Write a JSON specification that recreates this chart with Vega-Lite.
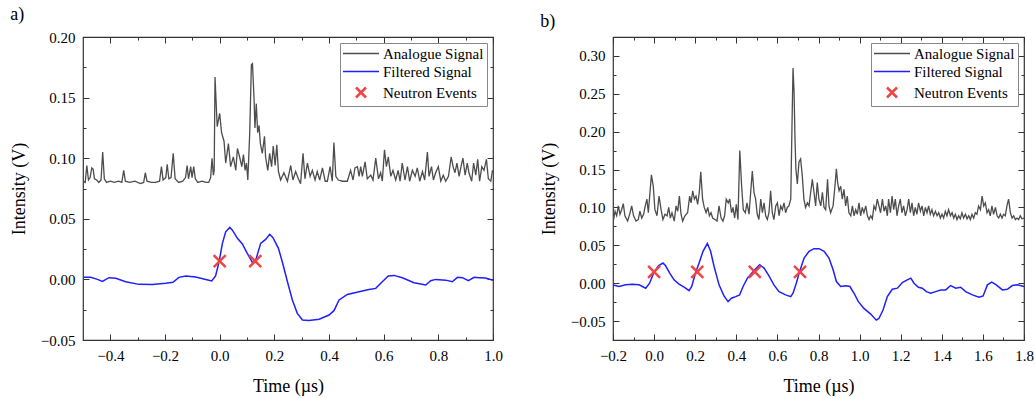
{
 "$schema": "https://vega.github.io/schema/vega-lite/v6.json",
 "padding": {"left": 9, "right": 5, "top": 5, "bottom": 0},
 "config": {
  "view": {"stroke": "#333", "strokeWidth": 1.2},
  "font": "Liberation Serif",
  "axis": {"labelFont": "Liberation Serif", "labelFontSize": 15, "labelColor": "black", "titleFont": "Liberation Serif", "titleFontSize": 18, "titleFontWeight": "normal", "titleColor": "black", "grid": false, "domain": false, "tickColor": "#333", "tickWidth": 1, "labelOverlap": false, "labelFlush": false},
  "title": {"font": "Liberation Serif", "fontSize": 18, "fontWeight": "normal", "color": "black"}
 },
 "datasets": {
  "la": [
   {"t":-0.500,"v":0.081},{"t":-0.492,"v":0.080},{"t":-0.486,"v":0.094},{"t":-0.480,"v":0.082},{"t":-0.474,"v":0.084},{"t":-0.468,"v":0.092},{"t":-0.463,"v":0.091},{"t":-0.458,"v":0.083},{"t":-0.450,"v":0.082},{"t":-0.442,"v":0.080},{"t":-0.434,"v":0.082},{"t":-0.428,"v":0.105},{"t":-0.422,"v":0.083},{"t":-0.414,"v":0.080},{"t":-0.400,"v":0.081},{"t":-0.385,"v":0.080},{"t":-0.370,"v":0.081},{"t":-0.358,"v":0.080},{"t":-0.351,"v":0.090},{"t":-0.345,"v":0.081},{"t":-0.330,"v":0.080},{"t":-0.310,"v":0.081},{"t":-0.290,"v":0.079},{"t":-0.278,"v":0.080},{"t":-0.272,"v":0.088},{"t":-0.266,"v":0.081},{"t":-0.250,"v":0.080},{"t":-0.235,"v":0.080},{"t":-0.220,"v":0.081},{"t":-0.213,"v":0.093},{"t":-0.207,"v":0.082},{"t":-0.197,"v":0.084},{"t":-0.192,"v":0.095},{"t":-0.186,"v":0.083},{"t":-0.178,"v":0.084},{"t":-0.170,"v":0.104},{"t":-0.163,"v":0.083},{"t":-0.150,"v":0.080},{"t":-0.135,"v":0.081},{"t":-0.125,"v":0.084},{"t":-0.119,"v":0.094},{"t":-0.114,"v":0.083},{"t":-0.106,"v":0.093},{"t":-0.101,"v":0.084},{"t":-0.095,"v":0.093},{"t":-0.089,"v":0.083},{"t":-0.080,"v":0.080},{"t":-0.065,"v":0.081},{"t":-0.050,"v":0.080},{"t":-0.040,"v":0.080},{"t":-0.033,"v":0.084},{"t":-0.028,"v":0.100},{"t":-0.023,"v":0.086},{"t":-0.020,"v":0.090},{"t":-0.017,"v":0.167},{"t":-0.009,"v":0.126},{"t":0.000,"v":0.137},{"t":0.007,"v":0.121},{"t":0.016,"v":0.114},{"t":0.022,"v":0.096},{"t":0.032,"v":0.112},{"t":0.040,"v":0.093},{"t":0.050,"v":0.101},{"t":0.059,"v":0.090},{"t":0.065,"v":0.108},{"t":0.073,"v":0.101},{"t":0.081,"v":0.093},{"t":0.087,"v":0.103},{"t":0.093,"v":0.090},{"t":0.098,"v":0.096},{"t":0.103,"v":0.082},{"t":0.110,"v":0.121},{"t":0.116,"v":0.177},{"t":0.120,"v":0.178},{"t":0.126,"v":0.148},{"t":0.129,"v":0.125},{"t":0.134,"v":0.145},{"t":0.139,"v":0.121},{"t":0.144,"v":0.127},{"t":0.149,"v":0.112},{"t":0.156,"v":0.104},{"t":0.164,"v":0.118},{"t":0.168,"v":0.101},{"t":0.176,"v":0.090},{"t":0.183,"v":0.104},{"t":0.190,"v":0.093},{"t":0.196,"v":0.110},{"t":0.203,"v":0.094},{"t":0.209,"v":0.111},{"t":0.215,"v":0.089},{"t":0.223,"v":0.082},{"t":0.235,"v":0.088},{"t":0.248,"v":0.081},{"t":0.260,"v":0.094},{"t":0.268,"v":0.082},{"t":0.278,"v":0.089},{"t":0.288,"v":0.083},{"t":0.296,"v":0.079},{"t":0.305,"v":0.104},{"t":0.312,"v":0.083},{"t":0.321,"v":0.096},{"t":0.331,"v":0.085},{"t":0.339,"v":0.090},{"t":0.349,"v":0.082},{"t":0.357,"v":0.089},{"t":0.366,"v":0.082},{"t":0.376,"v":0.092},{"t":0.386,"v":0.081},{"t":0.394,"v":0.081},{"t":0.404,"v":0.093},{"t":0.412,"v":0.081},{"t":0.418,"v":0.113},{"t":0.425,"v":0.085},{"t":0.434,"v":0.082},{"t":0.449,"v":0.081},{"t":0.467,"v":0.081},{"t":0.479,"v":0.090},{"t":0.488,"v":0.082},{"t":0.495,"v":0.092},{"t":0.504,"v":0.093},{"t":0.510,"v":0.085},{"t":0.516,"v":0.093},{"t":0.522,"v":0.085},{"t":0.532,"v":0.097},{"t":0.540,"v":0.083},{"t":0.553,"v":0.086},{"t":0.561,"v":0.082},{"t":0.571,"v":0.100},{"t":0.581,"v":0.083},{"t":0.589,"v":0.088},{"t":0.595,"v":0.081},{"t":0.603,"v":0.107},{"t":0.610,"v":0.093},{"t":0.617,"v":0.101},{"t":0.626,"v":0.085},{"t":0.634,"v":0.090},{"t":0.644,"v":0.082},{"t":0.653,"v":0.090},{"t":0.660,"v":0.081},{"t":0.668,"v":0.096},{"t":0.678,"v":0.082},{"t":0.687,"v":0.093},{"t":0.695,"v":0.081},{"t":0.705,"v":0.090},{"t":0.715,"v":0.085},{"t":0.723,"v":0.092},{"t":0.732,"v":0.081},{"t":0.742,"v":0.089},{"t":0.750,"v":0.082},{"t":0.760,"v":0.105},{"t":0.766,"v":0.085},{"t":0.775,"v":0.093},{"t":0.782,"v":0.082},{"t":0.790,"v":0.088},{"t":0.800,"v":0.093},{"t":0.809,"v":0.081},{"t":0.818,"v":0.086},{"t":0.827,"v":0.081},{"t":0.837,"v":0.085},{"t":0.847,"v":0.101},{"t":0.854,"v":0.093},{"t":0.861,"v":0.088},{"t":0.868,"v":0.096},{"t":0.876,"v":0.085},{"t":0.883,"v":0.093},{"t":0.890,"v":0.100},{"t":0.898,"v":0.086},{"t":0.906,"v":0.096},{"t":0.912,"v":0.088},{"t":0.922,"v":0.081},{"t":0.929,"v":0.096},{"t":0.937,"v":0.086},{"t":0.944,"v":0.099},{"t":0.951,"v":0.081},{"t":0.959,"v":0.093},{"t":0.967,"v":0.090},{"t":0.976,"v":0.099},{"t":0.983,"v":0.083},{"t":0.992,"v":0.081},{"t":0.998,"v":0.090},{"t":1.000,"v":0.088}
  ],
  "lf": [
   {"t":-0.500,"v":0.0017},{"t":-0.472,"v":0.0017},{"t":-0.447,"v":0.0},{"t":-0.429,"v":-0.0016},{"t":-0.405,"v":0.0014},{"t":-0.380,"v":0.0009},{"t":-0.344,"v":-0.0019},{"t":-0.295,"v":-0.0041},{"t":-0.246,"v":-0.0043},{"t":-0.198,"v":-0.0032},{"t":-0.171,"v":-0.0024},{"t":-0.149,"v":0.0017},{"t":-0.124,"v":0.0028},{"t":-0.088,"v":0.002},{"t":-0.051,"v":0.0},{"t":-0.029,"v":-0.0013},{"t":-0.015,"v":0.0028},{"t":-0.002,"v":0.0146},{"t":0.010,"v":0.0297},{"t":0.022,"v":0.0393},{"t":0.037,"v":0.0429},{"t":0.046,"v":0.0408},{"t":0.065,"v":0.0339},{"t":0.083,"v":0.0292},{"t":0.101,"v":0.0215},{"t":0.120,"v":0.0138},{"t":0.132,"v":0.0160},{"t":0.150,"v":0.0297},{"t":0.168,"v":0.033},{"t":0.183,"v":0.0372},{"t":0.195,"v":0.0344},{"t":0.215,"v":0.0256},{"t":0.229,"v":0.0146},{"t":0.248,"v":-0.0019},{"t":0.266,"v":-0.017},{"t":0.284,"v":-0.028},{"t":0.303,"v":-0.0335},{"t":0.327,"v":-0.034},{"t":0.364,"v":-0.0329},{"t":0.400,"v":-0.0294},{"t":0.418,"v":-0.0258},{"t":0.437,"v":-0.017},{"t":0.467,"v":-0.0124},{"t":0.510,"v":-0.0102},{"t":0.546,"v":-0.0083},{"t":0.571,"v":-0.0074},{"t":0.595,"v":-0.0019},{"t":0.617,"v":0.0028},{"t":0.638,"v":0.0033},{"t":0.668,"v":0.0014},{"t":0.711,"v":-0.0027},{"t":0.754,"v":-0.0046},{"t":0.772,"v":-0.0011},{"t":0.790,"v":0.0},{"t":0.827,"v":-0.0006},{"t":0.851,"v":-0.0019},{"t":0.870,"v":0.0017},{"t":0.888,"v":0.0014},{"t":0.910,"v":-0.0011},{"t":0.931,"v":0.0017},{"t":0.949,"v":0.0014},{"t":0.973,"v":0.0011},{"t":1.000,"v":-0.0008}
  ],
  "le": [
   {"t":0.0,"v":0.015,"s":"Neutron Events"},{"t":0.13,"v":0.015,"s":"Neutron Events"}
  ],
  "ra": [
   {"t":-0.200,"v":0.088},{"t":-0.197,"v":0.084},{"t":-0.190,"v":0.095},{"t":-0.182,"v":0.089},{"t":-0.174,"v":0.102},{"t":-0.166,"v":0.091},{"t":-0.158,"v":0.097},{"t":-0.150,"v":0.105},{"t":-0.142,"v":0.089},{"t":-0.129,"v":0.082},{"t":-0.117,"v":0.093},{"t":-0.109,"v":0.102},{"t":-0.100,"v":0.089},{"t":-0.088,"v":0.082},{"t":-0.077,"v":0.084},{"t":-0.069,"v":0.095},{"t":-0.060,"v":0.086},{"t":-0.051,"v":0.091},{"t":-0.043,"v":0.102},{"t":-0.035,"v":0.111},{"t":-0.028,"v":0.093},{"t":-0.020,"v":0.120},{"t":-0.013,"v":0.143},{"t":-0.004,"v":0.128},{"t":0.004,"v":0.097},{"t":0.014,"v":0.089},{"t":0.024,"v":0.115},{"t":0.034,"v":0.097},{"t":0.043,"v":0.084},{"t":0.053,"v":0.091},{"t":0.063,"v":0.089},{"t":0.071,"v":0.100},{"t":0.079,"v":0.086},{"t":0.087,"v":0.093},{"t":0.098,"v":0.082},{"t":0.107,"v":0.102},{"t":0.115,"v":0.095},{"t":0.123,"v":0.115},{"t":0.131,"v":0.091},{"t":0.139,"v":0.082},{"t":0.150,"v":0.089},{"t":0.163,"v":0.093},{"t":0.173,"v":0.115},{"t":0.180,"v":0.106},{"t":0.188,"v":0.122},{"t":0.196,"v":0.111},{"t":0.204,"v":0.115},{"t":0.212,"v":0.104},{"t":0.220,"v":0.120},{"t":0.227,"v":0.147},{"t":0.236,"v":0.111},{"t":0.244,"v":0.100},{"t":0.253,"v":0.093},{"t":0.261,"v":0.100},{"t":0.269,"v":0.089},{"t":0.277,"v":0.093},{"t":0.285,"v":0.086},{"t":0.296,"v":0.084},{"t":0.306,"v":0.082},{"t":0.316,"v":0.102},{"t":0.326,"v":0.086},{"t":0.335,"v":0.082},{"t":0.343,"v":0.089},{"t":0.351,"v":0.111},{"t":0.361,"v":0.106},{"t":0.368,"v":0.111},{"t":0.377,"v":0.093},{"t":0.384,"v":0.100},{"t":0.392,"v":0.086},{"t":0.400,"v":0.104},{"t":0.408,"v":0.084},{"t":0.417,"v":0.175},{"t":0.426,"v":0.128},{"t":0.434,"v":0.097},{"t":0.444,"v":0.093},{"t":0.452,"v":0.106},{"t":0.462,"v":0.091},{"t":0.470,"v":0.120},{"t":0.478,"v":0.148},{"t":0.486,"v":0.120},{"t":0.494,"v":0.111},{"t":0.502,"v":0.091},{"t":0.510,"v":0.084},{"t":0.519,"v":0.111},{"t":0.527,"v":0.093},{"t":0.535,"v":0.106},{"t":0.543,"v":0.089},{"t":0.551,"v":0.084},{"t":0.559,"v":0.093},{"t":0.567,"v":0.122},{"t":0.575,"v":0.093},{"t":0.583,"v":0.084},{"t":0.592,"v":0.102},{"t":0.600,"v":0.106},{"t":0.608,"v":0.089},{"t":0.616,"v":0.102},{"t":0.624,"v":0.097},{"t":0.632,"v":0.106},{"t":0.640,"v":0.093},{"t":0.648,"v":0.100},{"t":0.656,"v":0.102},{"t":0.665,"v":0.111},{"t":0.671,"v":0.208},{"t":0.676,"v":0.284},{"t":0.681,"v":0.253},{"t":0.686,"v":0.186},{"t":0.690,"v":0.151},{"t":0.697,"v":0.131},{"t":0.705,"v":0.160},{"t":0.713,"v":0.164},{"t":0.721,"v":0.142},{"t":0.729,"v":0.111},{"t":0.737,"v":0.100},{"t":0.746,"v":0.106},{"t":0.754,"v":0.102},{"t":0.762,"v":0.120},{"t":0.770,"v":0.137},{"t":0.778,"v":0.120},{"t":0.786,"v":0.102},{"t":0.794,"v":0.133},{"t":0.802,"v":0.111},{"t":0.811,"v":0.102},{"t":0.819,"v":0.120},{"t":0.827,"v":0.100},{"t":0.835,"v":0.097},{"t":0.844,"v":0.137},{"t":0.851,"v":0.102},{"t":0.859,"v":0.093},{"t":0.871,"v":0.102},{"t":0.880,"v":0.128},{"t":0.887,"v":0.151},{"t":0.893,"v":0.133},{"t":0.900,"v":0.122},{"t":0.908,"v":0.128},{"t":0.916,"v":0.111},{"t":0.924,"v":0.124},{"t":0.932,"v":0.102},{"t":0.940,"v":0.115},{"t":0.948,"v":0.093},{"t":0.957,"v":0.089},{"t":0.965,"v":0.102},{"t":0.973,"v":0.089},{"t":0.981,"v":0.097},{"t":0.989,"v":0.091},{"t":0.997,"v":0.106},{"t":1.005,"v":0.089},{"t":1.013,"v":0.100},{"t":1.021,"v":0.093},{"t":1.030,"v":0.102},{"t":1.038,"v":0.089},{"t":1.046,"v":0.084},{"t":1.054,"v":0.089},{"t":1.062,"v":0.085},{"t":1.070,"v":0.102},{"t":1.078,"v":0.097},{"t":1.086,"v":0.111},{"t":1.094,"v":0.102},{"t":1.102,"v":0.093},{"t":1.111,"v":0.111},{"t":1.119,"v":0.095},{"t":1.127,"v":0.102},{"t":1.135,"v":0.089},{"t":1.141,"v":0.111},{"t":1.150,"v":0.093},{"t":1.158,"v":0.115},{"t":1.166,"v":0.097},{"t":1.174,"v":0.111},{"t":1.182,"v":0.089},{"t":1.190,"v":0.102},{"t":1.198,"v":0.111},{"t":1.206,"v":0.093},{"t":1.214,"v":0.102},{"t":1.223,"v":0.089},{"t":1.231,"v":0.097},{"t":1.239,"v":0.111},{"t":1.247,"v":0.093},{"t":1.255,"v":0.106},{"t":1.263,"v":0.089},{"t":1.271,"v":0.100},{"t":1.279,"v":0.091},{"t":1.287,"v":0.106},{"t":1.296,"v":0.095},{"t":1.304,"v":0.102},{"t":1.312,"v":0.089},{"t":1.320,"v":0.100},{"t":1.328,"v":0.093},{"t":1.336,"v":0.102},{"t":1.344,"v":0.091},{"t":1.352,"v":0.097},{"t":1.360,"v":0.089},{"t":1.369,"v":0.095},{"t":1.377,"v":0.089},{"t":1.385,"v":0.093},{"t":1.393,"v":0.086},{"t":1.401,"v":0.091},{"t":1.409,"v":0.086},{"t":1.417,"v":0.095},{"t":1.425,"v":0.089},{"t":1.433,"v":0.097},{"t":1.442,"v":0.089},{"t":1.450,"v":0.093},{"t":1.458,"v":0.086},{"t":1.466,"v":0.091},{"t":1.474,"v":0.084},{"t":1.482,"v":0.089},{"t":1.490,"v":0.085},{"t":1.498,"v":0.093},{"t":1.506,"v":0.086},{"t":1.515,"v":0.091},{"t":1.523,"v":0.085},{"t":1.531,"v":0.089},{"t":1.539,"v":0.084},{"t":1.547,"v":0.091},{"t":1.555,"v":0.086},{"t":1.563,"v":0.093},{"t":1.571,"v":0.091},{"t":1.579,"v":0.102},{"t":1.588,"v":0.097},{"t":1.596,"v":0.115},{"t":1.604,"v":0.102},{"t":1.612,"v":0.106},{"t":1.620,"v":0.093},{"t":1.628,"v":0.097},{"t":1.636,"v":0.089},{"t":1.644,"v":0.102},{"t":1.652,"v":0.091},{"t":1.661,"v":0.100},{"t":1.669,"v":0.089},{"t":1.677,"v":0.086},{"t":1.685,"v":0.091},{"t":1.693,"v":0.086},{"t":1.701,"v":0.091},{"t":1.709,"v":0.089},{"t":1.717,"v":0.102},{"t":1.725,"v":0.111},{"t":1.734,"v":0.093},{"t":1.742,"v":0.086},{"t":1.750,"v":0.089},{"t":1.758,"v":0.084},{"t":1.766,"v":0.086},{"t":1.774,"v":0.084},{"t":1.782,"v":0.089},{"t":1.790,"v":0.085},{"t":1.800,"v":0.086}
  ],
  "rf": [
   {"t":-0.200,"v":-0.0022},{"t":-0.171,"v":-0.0044},{"t":-0.138,"v":-0.0022},{"t":-0.106,"v":-0.0013},{"t":-0.073,"v":-0.0022},{"t":-0.041,"v":-0.0066},{"t":-0.022,"v":0.0},{"t":-0.001,"v":0.0142},{"t":0.021,"v":0.023},{"t":0.043,"v":0.0266},{"t":0.056,"v":0.023},{"t":0.076,"v":0.0133},{"t":0.097,"v":0.0044},{"t":0.121,"v":-0.0013},{"t":0.150,"v":-0.0058},{"t":0.170,"v":-0.0098},{"t":0.183,"v":-0.0044},{"t":0.202,"v":0.0142},{"t":0.219,"v":0.0266},{"t":0.238,"v":0.0421},{"t":0.259,"v":0.0523},{"t":0.275,"v":0.0421},{"t":0.292,"v":0.0221},{"t":0.316,"v":-0.0022},{"t":0.340,"v":-0.0168},{"t":0.360,"v":-0.0244},{"t":0.376,"v":-0.0199},{"t":0.397,"v":-0.0177},{"t":0.416,"v":-0.0155},{"t":0.433,"v":-0.0044},{"t":0.454,"v":0.0066},{"t":0.478,"v":0.0142},{"t":0.498,"v":0.0199},{"t":0.514,"v":0.0243},{"t":0.535,"v":0.0199},{"t":0.559,"v":0.0097},{"t":0.583,"v":-0.0022},{"t":0.608,"v":-0.0111},{"t":0.640,"v":-0.0155},{"t":0.665,"v":-0.0177},{"t":0.676,"v":-0.0133},{"t":0.692,"v":0.0},{"t":0.708,"v":0.0155},{"t":0.730,"v":0.0332},{"t":0.754,"v":0.0421},{"t":0.778,"v":0.0456},{"t":0.803,"v":0.0456},{"t":0.827,"v":0.0421},{"t":0.851,"v":0.0332},{"t":0.871,"v":0.0177},{"t":0.887,"v":0.0022},{"t":0.908,"v":-0.0044},{"t":0.932,"v":-0.0035},{"t":0.953,"v":-0.0044},{"t":0.973,"v":-0.0133},{"t":0.994,"v":-0.0244},{"t":1.021,"v":-0.0333},{"t":1.054,"v":-0.0408},{"t":1.081,"v":-0.0488},{"t":1.094,"v":-0.0466},{"t":1.114,"v":-0.0355},{"t":1.135,"v":-0.0177},{"t":1.159,"v":-0.008},{"t":1.184,"v":-0.0066},{"t":1.208,"v":0.0009},{"t":1.232,"v":0.0044},{"t":1.249,"v":0.0066},{"t":1.265,"v":0.0},{"t":1.286,"v":-0.0053},{"t":1.305,"v":-0.0066},{"t":1.325,"v":-0.0111},{"t":1.346,"v":-0.0133},{"t":1.370,"v":-0.0111},{"t":1.395,"v":-0.0089},{"t":1.419,"v":-0.0089},{"t":1.443,"v":-0.0031},{"t":1.468,"v":-0.0066},{"t":1.492,"v":-0.0053},{"t":1.516,"v":-0.0111},{"t":1.549,"v":-0.0155},{"t":1.581,"v":-0.0186},{"t":1.601,"v":-0.0168},{"t":1.622,"v":-0.0022},{"t":1.643,"v":0.0013},{"t":1.665,"v":-0.0022},{"t":1.695,"v":-0.0089},{"t":1.719,"v":-0.008},{"t":1.743,"v":-0.0031},{"t":1.768,"v":-0.0022},{"t":1.800,"v":-0.0044}
  ],
  "re": [
   {"t":0.0,"v":0.015,"s":"Neutron Events"},{"t":0.21,"v":0.015,"s":"Neutron Events"},{"t":0.49,"v":0.015,"s":"Neutron Events"},{"t":0.71,"v":0.015,"s":"Neutron Events"}
  ]
 },
 "spacing": 36,
 "resolve": {"scale": {"x": "independent", "y": "independent", "color": "independent"}, "legend": {"color": "independent"}},
 "hconcat": [
  {
   "title": {"text": "a)", "anchor": "start", "frame": "bounds", "offset": 6},
   "width": 410, "height": 303,
   "resolve": {"axis": {"x": "independent", "y": "independent"}},
   "layer": [
    {
     "data": {"name": "la"},
     "mark": {"type": "line", "color": "#4d4d4d", "strokeWidth": 1.3, "clip": true},
     "encoding": {
      "x": {"field": "t", "type": "quantitative", "scale": {"domain": [-0.5, 1.0], "nice": false, "zero": false},
            "axis": {"orient": "bottom", "title": "Time (µs)", "titlePadding": 11, "values": [-0.4,-0.3,-0.2,-0.1,0,0.1,0.2,0.3,0.4,0.5,0.6,0.7,0.8,0.9,1.0],
                     "tickSize": {"condition": {"test": "abs(datum.value*5-round(datum.value*5))<0.01", "value": -6}, "value": -3},
                     "labelExpr": "abs(datum.value*5-round(datum.value*5))<0.01 ? format(datum.value,'.1f') : ''", "labelPadding": 14}},
      "y": {"field": "v", "type": "quantitative", "scale": {"domain": [-0.05, 0.2], "nice": false, "zero": false},
            "axis": {"orient": "left", "title": "Intensity (V)", "titlePadding": 12, "values": [-0.05,-0.025,0,0.025,0.05,0.075,0.1,0.125,0.15,0.175,0.2],
                     "tickSize": {"condition": {"test": "abs(datum.value*20-round(datum.value*20))<0.01", "value": -6}, "value": -3},
                     "labelExpr": "abs(datum.value*20-round(datum.value*20))<0.01 ? format(datum.value,'.2f') : ''", "labelPadding": 14}}
     }
    },
    {
     "data": {"name": "lf"},
     "mark": {"type": "line", "color": "#1f1fff", "strokeWidth": 1.5, "clip": true},
     "encoding": {
      "x": {"field": "t", "type": "quantitative",
            "axis": {"orient": "top", "title": null, "labels": false, "values": [-0.4,-0.3,-0.2,-0.1,0,0.1,0.2,0.3,0.4,0.5,0.6,0.7,0.8,0.9,1.0],
                     "tickSize": {"condition": {"test": "abs(datum.value*5-round(datum.value*5))<0.01", "value": -6}, "value": -3}}},
      "y": {"field": "v", "type": "quantitative",
            "axis": {"orient": "right", "title": null, "labels": false, "values": [-0.05,-0.025,0,0.025,0.05,0.075,0.1,0.125,0.15,0.175,0.2],
                     "tickSize": {"condition": {"test": "abs(datum.value*20-round(datum.value*20))<0.01", "value": -6}, "value": -3}}}
     }
    },
    {
     "data": {"name": "le"},
     "mark": {"type": "point", "shape": "M-1,-1L1,1M1,-1L-1,1", "size": 144, "filled": false, "strokeWidth": 2.5, "opacity": 1},
     "encoding": {
      "x": {"field": "t", "type": "quantitative", "axis": null},
      "y": {"field": "v", "type": "quantitative", "axis": null},
      "color": {"field": "s", "type": "nominal",
                "scale": {"domain": ["Analogue Signal", "Filtered Signal", "Neutron Events"], "range": ["#4d4d4d", "#1f1fff", "#f04545"]},
                "legend": {"title": null, "orient": "top-right", "offset": 6, "strokeColor": "#888", "fillColor": "white", "padding": 3,
                           "symbolSize": 100, "labelOffset": 25, "rowPadding": 2,
                           "symbolType": {"expr": "datum.value === 'Neutron Events' ? 'M1.1,-1L3.1,1M3.1,-1L1.1,1' : 'M-1.5,0L5.7,0'"},
                           "symbolStrokeWidth": {"expr": "datum.value === 'Neutron Events' ? 2.5 : 1.5"},
                           "labelFont": "Liberation Serif", "labelFontSize": 15, "labelColor": "black"}}
     }
    }
   ]
  },
  {
   "title": {"text": "b)", "anchor": "start", "frame": "bounds", "offset": 6},
   "width": 411, "height": 303,
   "resolve": {"axis": {"x": "independent", "y": "independent"}},
   "layer": [
    {
     "data": {"name": "ra"},
     "mark": {"type": "line", "color": "#4d4d4d", "strokeWidth": 1.3, "clip": true},
     "encoding": {
      "x": {"field": "t", "type": "quantitative", "scale": {"domain": [-0.2, 1.8], "nice": false, "zero": false},
            "axis": {"orient": "bottom", "title": "Time (µs)", "titlePadding": 11, "values": [-0.2,-0.1,0,0.1,0.2,0.3,0.4,0.5,0.6,0.7,0.8,0.9,1.0,1.1,1.2,1.3,1.4,1.5,1.6,1.7,1.8],
                     "tickSize": {"condition": {"test": "abs(datum.value*5-round(datum.value*5))<0.01", "value": -6}, "value": -3},
                     "labelExpr": "abs(datum.value*5-round(datum.value*5))<0.01 ? format(datum.value,'.1f') : ''", "labelPadding": 14}},
      "y": {"field": "v", "type": "quantitative", "scale": {"domain": [-0.075, 0.325], "nice": false, "zero": false},
            "axis": {"orient": "left", "title": "Intensity (V)", "titlePadding": 12, "values": [-0.05,-0.025,0,0.025,0.05,0.075,0.1,0.125,0.15,0.175,0.2,0.225,0.25,0.275,0.3],
                     "tickSize": {"condition": {"test": "abs(datum.value*20-round(datum.value*20))<0.01", "value": -6}, "value": -3},
                     "labelExpr": "abs(datum.value*20-round(datum.value*20))<0.01 ? format(datum.value,'.2f') : ''", "labelPadding": 14}}
     }
    },
    {
     "data": {"name": "rf"},
     "mark": {"type": "line", "color": "#1f1fff", "strokeWidth": 1.5, "clip": true},
     "encoding": {
      "x": {"field": "t", "type": "quantitative",
            "axis": {"orient": "top", "title": null, "labels": false, "values": [-0.2,-0.1,0,0.1,0.2,0.3,0.4,0.5,0.6,0.7,0.8,0.9,1.0,1.1,1.2,1.3,1.4,1.5,1.6,1.7,1.8],
                     "tickSize": {"condition": {"test": "abs(datum.value*5-round(datum.value*5))<0.01", "value": -6}, "value": -3}}},
      "y": {"field": "v", "type": "quantitative",
            "axis": {"orient": "right", "title": null, "labels": false, "values": [-0.05,-0.025,0,0.025,0.05,0.075,0.1,0.125,0.15,0.175,0.2,0.225,0.25,0.275,0.3],
                     "tickSize": {"condition": {"test": "abs(datum.value*20-round(datum.value*20))<0.01", "value": -6}, "value": -3}}}
     }
    },
    {
     "data": {"name": "re"},
     "mark": {"type": "point", "shape": "M-1,-1L1,1M1,-1L-1,1", "size": 144, "filled": false, "strokeWidth": 2.5, "opacity": 1},
     "encoding": {
      "x": {"field": "t", "type": "quantitative", "axis": null},
      "y": {"field": "v", "type": "quantitative", "axis": null},
      "color": {"field": "s", "type": "nominal",
                "scale": {"domain": ["Analogue Signal", "Filtered Signal", "Neutron Events"], "range": ["#4d4d4d", "#1f1fff", "#f04545"]},
                "legend": {"title": null, "orient": "top-right", "offset": 6, "strokeColor": "#888", "fillColor": "white", "padding": 3,
                           "symbolSize": 100, "labelOffset": 25, "rowPadding": 2,
                           "symbolType": {"expr": "datum.value === 'Neutron Events' ? 'M1.1,-1L3.1,1M3.1,-1L1.1,1' : 'M-1.5,0L5.7,0'"},
                           "symbolStrokeWidth": {"expr": "datum.value === 'Neutron Events' ? 2.5 : 1.5"},
                           "labelFont": "Liberation Serif", "labelFontSize": 15, "labelColor": "black"}}
     }
    }
   ]
  }
 ]
}
